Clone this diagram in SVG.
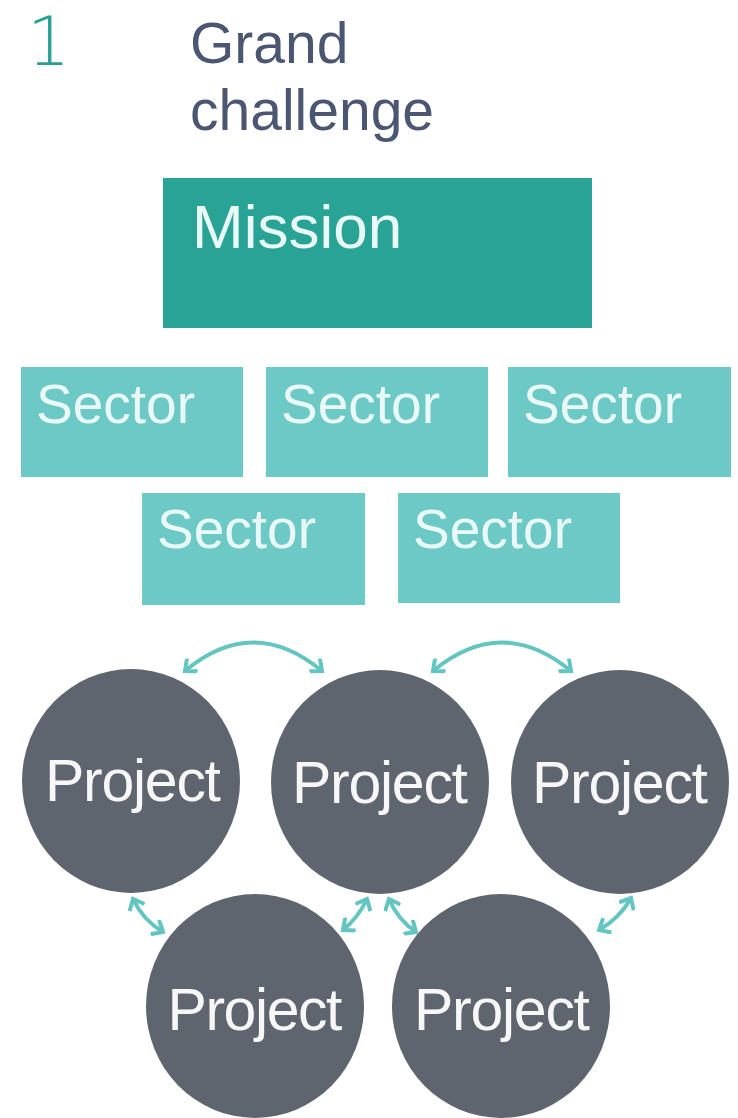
<svg xmlns="http://www.w3.org/2000/svg" width="738" height="1118" viewBox="0 0 738 1118">
  <style>
    .num { font-family: "DejaVu Sans", "Liberation Sans", sans-serif; font-weight: 200; font-size: 68px; fill: #2aa094; }
    .title { font-family: "Liberation Sans", Arial, sans-serif; font-size: 57px; fill: #4b5672; }
    .mission { fill: #28a396; }
    .mission-t { font-family: "Liberation Sans", Arial, sans-serif; font-size: 62px; fill: #e9f9f6; }
    .sector { fill: #6cc9c5; }
    .sector-t { font-family: "Liberation Sans", Arial, sans-serif; font-size: 55px; fill: #eaf9f7; }
    .project { fill: #5e656e; }
    .project-t { font-family: "Liberation Sans", Arial, sans-serif; font-size: 59px; fill: #f7f7f7; text-anchor: middle; }
    .link { fill: none; stroke: #63c5c0; stroke-width: 4; marker-start: url(#ah); marker-end: url(#ah); }
  </style>
  <defs>
    <marker id="ah" viewBox="0 0 14 18" refX="11" refY="9" markerWidth="14" markerHeight="18" markerUnits="userSpaceOnUse" orient="auto-start-reverse">
      <path d="M3,2 L11,9 L3,16" fill="none" stroke="#63c5c0" stroke-width="4" stroke-linecap="square" stroke-linejoin="miter"/>
    </marker>
  </defs>
  <rect width="738" height="1118" fill="#ffffff"/>

  <g id="header">
    <text class="num" x="27" y="65">1</text>
    <text class="title" x="190" y="63">Grand</text>
    <text class="title" x="190" y="130">challenge</text>
  </g>

  <g id="mission">
    <rect class="mission" x="163" y="178" width="429" height="150"/>
    <text class="mission-t" x="192" y="248">Mission</text>
  </g>

  <g id="sector1">
    <rect class="sector" x="21" y="367" width="222" height="110"/>
    <text class="sector-t" x="36" y="423">Sector</text>
  </g>
  <g id="sector2">
    <rect class="sector" x="266" y="367" width="222" height="110"/>
    <text class="sector-t" x="281" y="423">Sector</text>
  </g>
  <g id="sector3">
    <rect class="sector" x="508" y="367" width="223" height="110"/>
    <text class="sector-t" x="523" y="423">Sector</text>
  </g>
  <g id="sector4">
    <rect class="sector" x="142" y="493" width="223" height="112"/>
    <text class="sector-t" x="157" y="548">Sector</text>
  </g>
  <g id="sector5">
    <rect class="sector" x="398" y="493" width="222" height="110"/>
    <text class="sector-t" x="413" y="548">Sector</text>
  </g>

  <g id="project1">
    <ellipse class="project" cx="131" cy="781" rx="109" ry="112"/>
    <text class="project-t" x="133" y="801" textLength="176">Project</text>
  </g>
  <g id="project2">
    <ellipse class="project" cx="380" cy="782" rx="109" ry="112"/>
    <text class="project-t" x="380" y="803" textLength="176">Project</text>
  </g>
  <g id="project3">
    <ellipse class="project" cx="620" cy="782" rx="109" ry="112"/>
    <text class="project-t" x="620" y="803" textLength="176">Project</text>
  </g>
  <g id="project4">
    <ellipse class="project" cx="255" cy="1006" rx="109" ry="112"/>
    <text class="project-t" x="255" y="1030" textLength="175">Project</text>
  </g>
  <g id="project5">
    <ellipse class="project" cx="501" cy="1006" rx="109" ry="112"/>
    <text class="project-t" x="502" y="1030" textLength="176">Project</text>
  </g>

  <g id="connectors">
    <path class="link" d="M185,671 Q253,614 322,671"/>
    <path class="link" d="M433,671 Q502,614 571,671"/>
    <path class="link" d="M133,899 Q143,920 163,932"/>
    <path class="link" d="M367,899 Q358,918 343,930"/>
    <path class="link" d="M389,899 Q398,920 416,932"/>
    <path class="link" d="M631,898 Q620,918 599,930"/>
  </g>
</svg>
